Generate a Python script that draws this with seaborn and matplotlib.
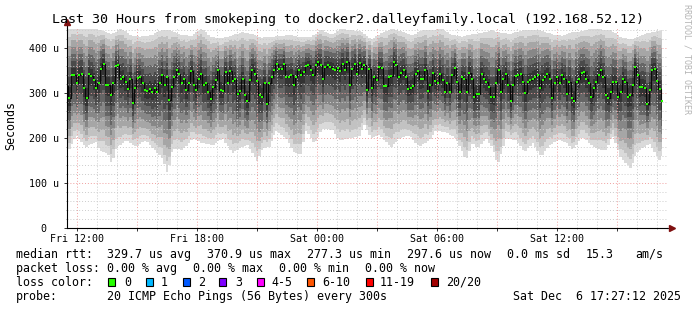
import numpy as np
import matplotlib
matplotlib.use("Agg")
import matplotlib.pyplot as plt
from matplotlib.patches import Rectangle
from matplotlib.ticker import FixedLocator, FixedFormatter, MultipleLocator
import seaborn as sns

# ---------------- data ----------------
# median RTT in microseconds, evenly spaced over the 30 h window
median_us = [
    316, 290, 340, 341, 322, 340, 343, 311, 289, 343, 339, 329, 311, 322, 355,
    366, 318, 318, 296, 322, 361, 362, 333, 337, 325, 309, 333, 278, 312, 335,
    337, 322, 307, 305, 309, 303, 311, 303, 322, 340, 318, 337, 285, 314, 337,
    353, 343, 322, 333, 307, 322, 349, 318, 307, 333, 343, 318, 322, 303, 287,
    314, 329, 351,
    307, 305, 347, 322, 349, 327, 333, 299, 305, 333, 297, 282, 329, 353, 343,
    327, 297, 292, 322, 277, 322, 337, 353, 366, 355, 355, 366, 337, 337, 340,
    319, 337, 353, 341, 347, 361, 362, 351, 340, 364, 370, 364, 331, 359, 362,
    359, 355, 351, 356, 349, 366, 353, 370, 318, 355, 366, 343, 367, 355, 362,
    307, 355,
    311, 337, 329, 359, 356, 316, 316, 337, 339, 370, 362, 337, 345, 351, 337,
    310, 312, 316, 343, 349, 333, 333, 353, 305, 318, 345, 327, 322, 343, 329,
    303, 322, 303, 340, 356, 325, 303, 337, 333, 303, 345, 331, 292, 299, 299,
    343, 333, 325, 314, 292, 292, 322, 353, 303, 333, 343, 318, 282, 318, 339,
    340, 343, 325, 300, 325, 329, 333, 337, 340, 311, 329, 337, 343, 333, 290,
    322, 337, 322, 341, 333, 299, 325, 290, 282, 325, 333, 345, 347, 333, 322,
    292, 311, 325, 340, 353, 337, 297, 290, 303, 325, 325, 292, 303, 333, 325,
    292, 297, 318, 359, 341, 314, 314, 311, 277, 307, 353, 355, 327, 309, 282,
]

# smoke upper envelope (slowest ping), one value per 30 min
smoke_max_us = [
    444, 444, 444, 440, 432, 444, 428, 426, 430, 440,
    440, 430, 428, 444, 425, 422, 428, 436, 432, 424,
    425, 428, 430, 424, 426, 442, 430, 444, 440, 438,
    420, 434, 444, 438, 428, 440, 440, 444, 430, 426,
    432, 434, 440, 434, 432, 440, 442, 440, 432, 428,
    436, 438, 444, 442, 440, 424, 420, 430, 436, 440,
]
# smoke lower envelope (fastest ping), read at irregular times (hours since Fri 00:00)
smoke_min_hours = [
    11.50, 11.93, 12.43, 12.93, 13.10, 13.60, 13.71, 13.93, 14.43, 14.93,
    15.43, 15.76, 16.26, 16.51, 16.76, 17.26, 17.76, 18.26, 18.76, 19.26,
    19.76, 20.10, 20.51, 21.01, 21.26, 21.60, 21.93, 22.43, 22.85, 23.18,
    23.43, 23.85, 24.26, 24.76, 25.10, 25.60, 26.10, 26.35,
    26.68, 27.10, 27.68, 28.10, 28.60, 29.10, 29.60, 29.93, 30.43, 30.93,
    31.43, 31.76, 32.01, 32.43, 32.76, 33.01, 33.43, 33.93, 34.35, 34.76,
    35.18, 35.60, 36.10, 36.43, 36.76, 37.26, 37.76, 38.18, 38.43, 38.76,
    39.18, 39.68, 39.93, 40.26, 40.60, 41.10, 41.35,
]
smoke_min_us = [
    167, 207, 181, 192, 174, 163, 141, 178, 196, 181,
    196, 178, 156, 120, 178, 174, 200, 189, 185, 200,
    167, 178, 185, 148, 178, 181, 218, 200, 167, 165,
    218, 189, 222, 218, 196, 200, 204, 230,
    200, 207, 181, 200, 207, 181, 196, 218, 213, 200,
    152, 192, 178, 200, 178, 141, 200, 196, 170, 189,
    159, 185, 196, 192, 174, 204, 181, 174, 174, 207,
    156, 133, 167, 178, 189, 152, 170,
]

x_major_hours = [12, 15, 18, 21, 24, 27, 30, 33, 36, 39]
x_tick_labels = ["Fri 12:00", "", "Fri 18:00", "", "Sat 00:00", "",
                 "Sat 06:00", "", "Sat 12:00", ""]
y_ticks = [0, 100, 200, 300, 400]
y_tick_labels = ["0  ", "100 u", "200 u", "300 u", "400 u"]

loss_labels = ["0", "1", "2", "3", "4-5", "6-10", "11-19", "20/20"]
loss_colors = ["#26ff00", "#00b8ff", "#0059ff", "#7e00ff", "#ff00ff",
               "#ff5500", "#ff0000", "#a10000"]

title = "Last 30 Hours from smokeping to docker2.dalleyfamily.local (192.168.52.12)"

# ---------------- figure ----------------
sns.set_theme(style="white")
plt.rcParams["font.family"] = ["DejaVu Sans Mono"]

W, H = 697, 310
fig = plt.figure(figsize=(W / 100, H / 100), dpi=100)
fig.patch.set_facecolor("white")

ax_left, ax_right, ax_top, ax_bottom = 66.5, 666.5, 27.7, 228.3
ax = fig.add_axes([ax_left / W, 1 - ax_bottom / H,
                   (ax_right - ax_left) / W, (ax_bottom - ax_top) / H])
ax.set_facecolor("white")

t0 = 11.4533
t1 = t0 + 30
ax.set_xlim(t0, t1)
ax.set_ylim(0, 446)

med = np.array(median_us, dtype=float)
med_t = np.linspace(t0 + 0.025, t1 - 0.225, len(med))
sm_t = np.linspace(t0 + 0.25, t1 - 0.25, len(smoke_max_us))
env_hi = np.interp(med_t, sm_t, smoke_max_us)
env_lo = np.minimum(np.interp(med_t, smoke_min_hours, smoke_min_us), med)

# smoke bands, outer (light) to inner (dark)
fracs = [1.0, 0.88, 0.75, 0.6, 0.45, 0.3, 0.15]
shades = ["#dadada", "#c2c2c2", "#a6a6a6", "#878787", "#666666", "#4a4a4a", "#333333"]
for f, c in zip(fracs, shades):
    ax.fill_between(med_t, med - f * (med - env_lo), med + f * (env_hi - med),
                    step="mid", color=c, linewidth=0, zorder=1)

# median line + loss-coloured points
sns.lineplot(x=med_t, y=med, estimator=None, sort=False, drawstyle="steps-mid",
             color="#0a0a0a", linewidth=0.8, ax=ax, zorder=3)
sns.scatterplot(x=med_t, y=med, marker="s", s=4.5, color=loss_colors[0],
                linewidth=0, ax=ax, zorder=4)

# grid
ax.xaxis.set_major_locator(FixedLocator(x_major_hours))
ax.xaxis.set_major_formatter(FixedFormatter(x_tick_labels))
ax.xaxis.set_minor_locator(MultipleLocator(1))
ax.yaxis.set_major_locator(FixedLocator(y_ticks))
ax.yaxis.set_major_formatter(FixedFormatter(y_tick_labels))
ax.yaxis.set_minor_locator(MultipleLocator(20))
ax.set_axisbelow(False)
ax.grid(which="minor", color="#cccccc", linestyle=(0, (1, 2)), linewidth=0.7)
ax.grid(which="major", color="#f0a0a0", linestyle=(0, (1, 2)), linewidth=0.7)

ax.tick_params(axis="both", which="major", length=2, width=0.7, color="#333333",
               labelsize=7.2, labelcolor="black", direction="out")
ax.tick_params(axis="x", which="major", pad=2.2)
ax.tick_params(axis="y", which="major", pad=3.6)
ax.tick_params(axis="both", which="minor", length=1, width=0.5, color="#666666")
ax.tick_params(left=True, bottom=True, which="both")

for s in ["top", "right"]:
    ax.spines[s].set_visible(False)
for s in ["left", "bottom"]:
    ax.spines[s].set_color("black")
    ax.spines[s].set_linewidth(0.8)
    ax.spines[s].set_zorder(5)

# axis arrows
arrow_c = "#7f1010"
ax.plot([0, 0], [1, 1.026], transform=ax.transAxes, color="black", lw=0.8, clip_on=False)
ax.plot([0], [1.026], marker="^", markersize=4, color=arrow_c, transform=ax.transAxes,
        clip_on=False, zorder=6)
ax.plot([1, 1.0025], [0, 0], transform=ax.transAxes, color="black", lw=0.8, clip_on=False)
ax.plot([1.0085], [0], marker=">", markersize=4, color=arrow_c, transform=ax.transAxes,
        clip_on=False, zorder=6)
ax.set_xlabel("")
ax.set_ylabel("")


def ftext(x, y, s, **kw):
    kw.setdefault("fontsize", 8.4)
    kw.setdefault("va", "center")
    kw.setdefault("ha", "left")
    fig.text(x / W, 1 - y / H, s, color=kw.pop("color", "black"), **kw)


ftext(348.5, 19.3, title, fontsize=9.6, ha="center")
ftext(11, 126, "Seconds", rotation=90, ha="center", fontsize=8.4)
ftext(686.7, 4, "RRDTOOL / TOBI OETIKER", rotation=270, ha="center", va="top",
      fontsize=6, color="#b4b4b4")

# legend block
y1, y2, y3, y4 = 254.3, 268.3, 282.3, 296.3
ftext(16, y1, "median rtt:")
for x, s in [(107.3, "329.7 us avg"), (207.3, "370.9 us max"), (307.3, "277.3 us min"),
             (407.3, "297.6 us now"), (507.3, "0.0 ms sd"), (586, "15.3"), (635, "am/s")]:
    ftext(x, y1, s)
ftext(16, y2, "packet loss:")
for x, s in [(107.3, "0.00 % avg"), (193.3, "0.00 % max"), (279.3, "0.00 % min"),
             (365, "0.00 % now")]:
    ftext(x, y2, s)
ftext(16, y3, "loss color:")
box_x = [108.3, 145.7, 182.7, 219.3, 256.7, 307.3, 365.7, 430.7]
lab_x = [124, 161, 198.3, 235, 271.7, 322.3, 380, 445.7]
for bx, lx, lab, col in zip(box_x, lab_x, loss_labels, loss_colors):
    fig.add_artist(Rectangle((bx / W, 1 - (y3 + 4) / H), 7 / W, 8 / H,
                             transform=fig.transFigure, facecolor=col,
                             edgecolor="black", linewidth=0.8))
    ftext(lx, y3, lab)
ftext(16, y4, "probe:")
ftext(107.3, y4, "20 ICMP Echo Pings (56 Bytes) every 300s")
ftext(513.3, y4, "Sat Dec  6 17:27:12 2025")

fig.savefig("out.png", dpi=100, facecolor="white")
